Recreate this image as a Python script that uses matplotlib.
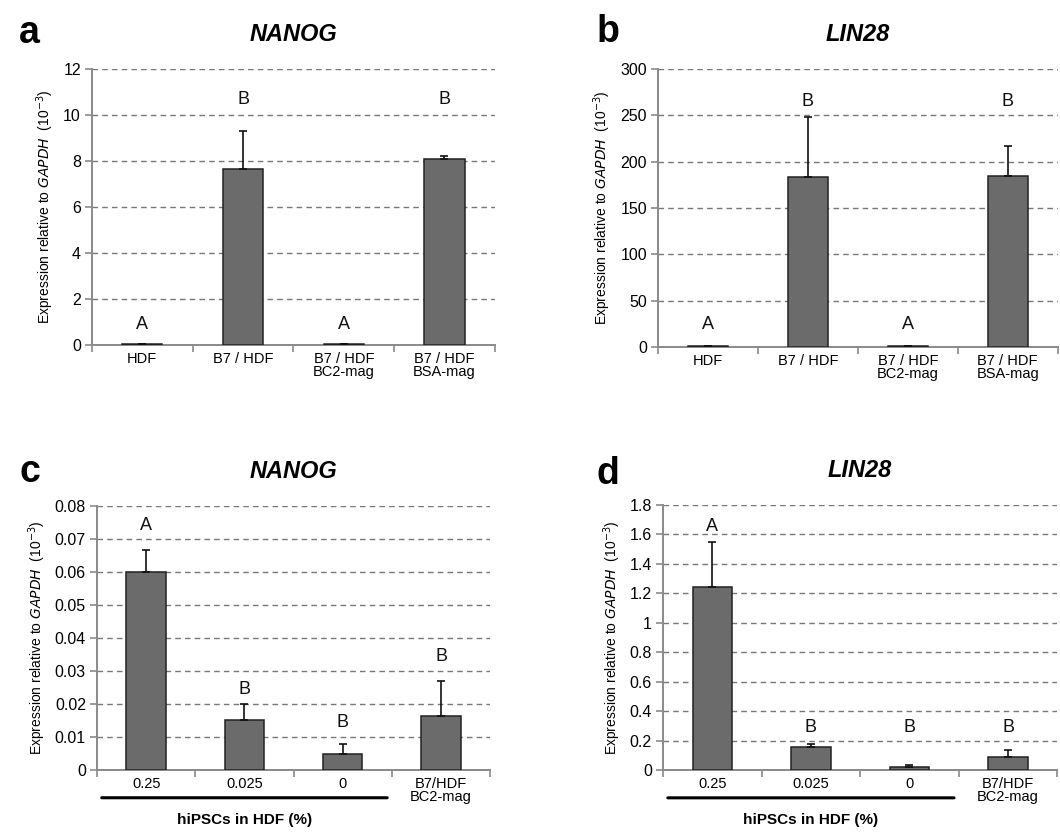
import numpy as np
import matplotlib
matplotlib.use('Agg')
import matplotlib.pyplot as plt
from matplotlib.ticker import FuncFormatter

plt.rcParams['font.family'] = ['Liberation Sans', 'DejaVu Sans']

# panel a / b: treatments
cats_ab = ['HDF', 'B7 / HDF', 'B7 / HDF\nBC2-mag', 'B7 / HDF\nBSA-mag']
nanog_ab = [0.05, 7.65, 0.05, 8.1]
nanog_ab_err = [0, 1.65, 0, 0.1]
nanog_ab_grp = ['A', 'B', 'A', 'B']
lin28_ab = [1.0, 183, 1.0, 185]
lin28_ab_err = [0, 65, 0, 32]
lin28_ab_grp = ['A', 'B', 'A', 'B']

# panel c / d: dilution series
cats_cd = ['0.25', '0.025', '0', 'B7/HDF\nBC2-mag']
nanog_cd = [0.060, 0.0152, 0.005, 0.0165]
nanog_cd_err = [0.0067, 0.0048, 0.0029, 0.0105]
nanog_cd_grp = ['A', 'B', 'B', 'B']
lin28_cd = [1.24, 0.155, 0.02, 0.09]
lin28_cd_err = [0.31, 0.025, 0.015, 0.045]
lin28_cd_grp = ['A', 'B', 'B', 'B']

GRAY = '#6b6b6b'
AXC = '#8a8a8a'


def draw_panel(ax, cats, vals, errs, grps, ymax, step, letter_y, title):
    x = np.arange(len(cats))
    ax.bar(x, vals, width=0.4, color=GRAY, edgecolor='#222222', linewidth=1.1, zorder=3)
    ax.errorbar(x, vals, yerr=[np.zeros(len(vals)), errs], fmt='none',
                ecolor='#111111', elinewidth=1.2, capsize=3, capthick=1.2, zorder=4)
    for xi, g, ly in zip(x, grps, letter_y):
        ax.text(xi, ly, g, ha='center', va='center', fontsize=13, color='#111111')
    ax.set_xlim(-0.5, len(cats) - 0.5)
    ax.set_ylim(0, ymax)
    ax.set_yticks(np.arange(0, ymax + step / 2, step))
    ax.yaxis.set_major_formatter(FuncFormatter(lambda v, p: f'{v:g}'))
    ax.set_xticks(x)
    ax.set_xticklabels(cats, fontsize=10.5, linespacing=0.95)
    ax.set_xticks(np.arange(-0.5, len(cats)), minor=True)
    ax.tick_params(axis='x', which='major', length=0, pad=5)
    ax.tick_params(axis='x', which='minor', length=5, color=AXC, width=1.2)
    ax.tick_params(axis='y', length=5, color=AXC, width=1.2, labelsize=11.5, pad=3)
    ax.grid(axis='y', color='#777777', linestyle=(0, (4, 3)), linewidth=1.0, zorder=0)
    for s in ['top', 'right']:
        ax.spines[s].set_visible(False)
    for s in ['left', 'bottom']:
        ax.spines[s].set_color(AXC)
        ax.spines[s].set_linewidth(1.4)
    ax.set_ylabel('Expression relative to $\\it{GAPDH}$  (10$^{-3}$)', fontsize=10, labelpad=5)
    ax.set_title(title, fontsize=17, fontweight='bold', style='italic', pad=20)


fig = plt.figure(figsize=(10.6, 8.32), dpi=100)
ax_a = fig.add_axes([0.0868, 0.5853, 0.380, 0.332])
ax_b = fig.add_axes([0.6208, 0.5830, 0.377, 0.334])
ax_c = fig.add_axes([0.0915, 0.0745, 0.371, 0.3175])
ax_d = fig.add_axes([0.6255, 0.0745, 0.372, 0.3185])

draw_panel(ax_a, cats_ab, nanog_ab, nanog_ab_err, nanog_ab_grp, 12, 2,
           [0.9, 10.65, 0.9, 10.65], 'NANOG')
draw_panel(ax_b, cats_ab, lin28_ab, lin28_ab_err, lin28_ab_grp, 300, 50,
           [24, 265, 24, 265], 'LIN28')
draw_panel(ax_c, cats_cd, nanog_cd, nanog_cd_err, nanog_cd_grp, 0.08, 0.01,
           [0.0739, 0.0245, 0.0145, 0.0345], 'NANOG')
draw_panel(ax_d, cats_cd, lin28_cd, lin28_cd_err, lin28_cd_grp, 1.8, 0.2,
           [1.657, 0.29, 0.29, 0.29], 'LIN28')

# bracket under the dilution categories
for ax in (ax_c, ax_d):
    ax.annotate('', xy=(-0.48, -0.105), xytext=(2.48, -0.105),
                xycoords=('data', 'axes fraction'),
                arrowprops=dict(arrowstyle='-', color='black', linewidth=2.2))
    ax.text(1.0, -0.19, 'hiPSCs in HDF (%)', transform=ax.get_xaxis_transform(),
            ha='center', va='center', fontsize=11, fontweight='bold')

# panel letters
for lbl, (px, py) in zip('abcd', [(0.018, 0.960), (0.563, 0.962), (0.018, 0.433), (0.563, 0.430)]):
    fig.text(px, py, lbl, fontsize=27, fontweight='bold', ha='left', va='center')

fig.savefig('out.png', dpi=100)
